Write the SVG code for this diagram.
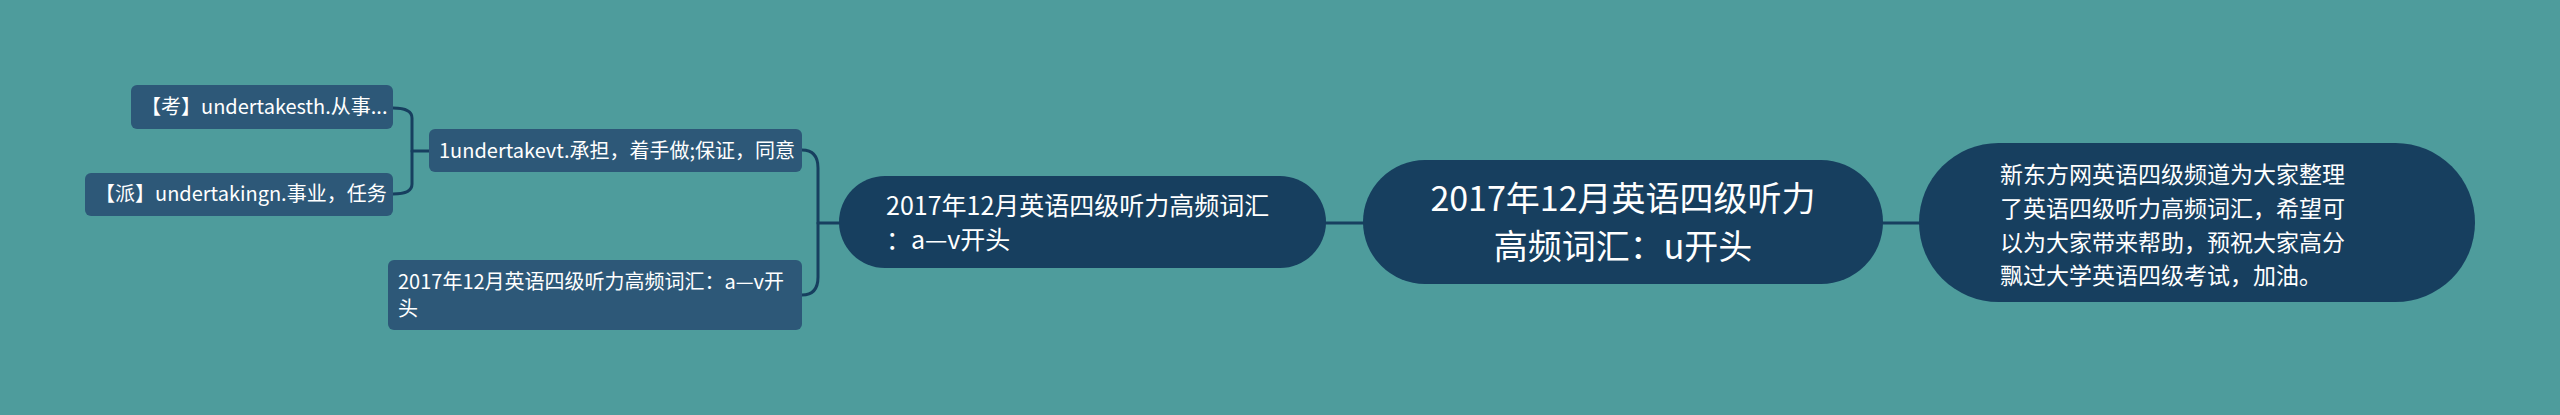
<svg xmlns="http://www.w3.org/2000/svg" width="2560" height="415" viewBox="0 0 2560 415">
<style>
.bg{fill:#4e9c9c}
.dark{fill:#173f5f}
.leaf{fill:#2d5878}
.t{fill:#ffffff;font-family:"Noto Sans CJK SC","Noto Sans",sans-serif}
.con{fill:none;stroke:#173f5f;stroke-width:3;stroke-linecap:round}
</style>
<rect class="bg" x="0" y="0" width="2560" height="415"/>
<g id="connectors">
<path class="con" d="M1326 223 H1363"/>
<path class="con" d="M1883 223 H1920"/>
<path class="con" d="M839 223 H818"/>
<path class="con" d="M802 150 Q818 150 818 168 V277 Q818 295 802 295"/>
<path class="con" d="M432 151 H412"/>
<path class="con" d="M393 108 Q412 108 412 118 V184 Q412 194 393 194"/>
</g>
<g id="main">
<rect class="dark" x="1363" y="160" width="520" height="124" rx="62"/>
<text class="t" x="1623" y="211" font-size="34" text-anchor="middle">2017年12月英语四级听力</text>
<text class="t" x="1623" y="259" font-size="34" text-anchor="middle">高频词汇：u开头</text>
</g>
<g id="intro">
<rect class="dark" x="1919" y="143" width="556" height="159" rx="79.5"/>
<text class="t" x="2000" y="183" font-size="23">新东方网英语四级频道为大家整理</text>
<text class="t" x="2000" y="217" font-size="23">了英语四级听力高频词汇，希望可</text>
<text class="t" x="2000" y="251" font-size="23">以为大家带来帮助，预祝大家高分</text>
<text class="t" x="2000" y="284" font-size="23">飘过大学英语四级考试，加油。</text>
</g>
<g id="l2">
<rect class="dark" x="839" y="176" width="487" height="92" rx="46"/>
<text class="t" x="886" y="215" font-size="25">2017年12月英语四级听力高频词汇</text>
<text class="t" x="886" y="249" font-size="25">：a—v开头</text>
</g>
<g id="n-undertake">
<rect class="leaf" x="429" y="129" width="373" height="43" rx="6"/>
<text class="t" x="439" y="158" font-size="20">1undertakevt.承担，着手做;保证，同意</text>
</g>
<g id="n-av">
<rect class="leaf" x="388" y="260" width="414" height="70" rx="6"/>
<text class="t" x="398" y="289" font-size="20">2017年12月英语四级听力高频词汇：a—v开</text>
<text class="t" x="398" y="316" font-size="20">头</text>
</g>
<g id="n-kao">
<rect class="leaf" x="131" y="85" width="262" height="44" rx="6"/>
<text class="t" x="141" y="114" font-size="20">【考】undertakesth.从事...</text>
</g>
<g id="n-pai">
<rect class="leaf" x="85" y="173" width="308" height="43" rx="6"/>
<text class="t" x="95" y="201" font-size="20">【派】undertakingn.事业，任务</text>
</g>
</svg>
